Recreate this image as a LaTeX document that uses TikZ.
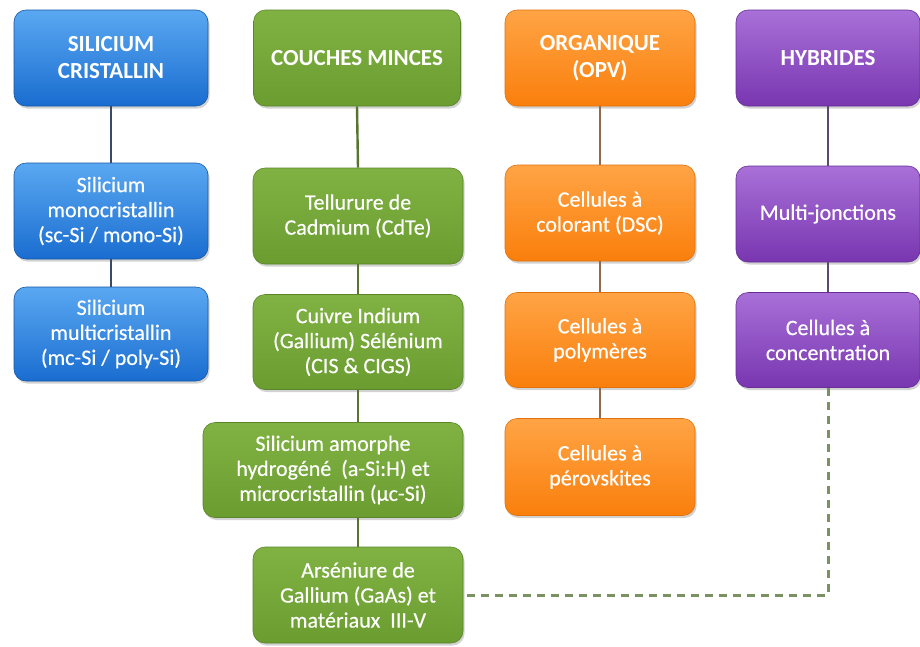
\documentclass[tikz,border=0pt]{standalone}
\usepackage{fontspec}
\setmainfont{Carlito}
\newfontfamily\boxfont[FakeBold=0.4]{Carlito}
\usetikzlibrary{shadows}
\definecolor{bTop}{HTML}{5AA8F2}
\definecolor{bBot}{HTML}{1A6DD0}
\definecolor{bLine}{HTML}{3A4A68}
\definecolor{gTop}{HTML}{80B243}
\definecolor{gBot}{HTML}{6A9C30}
\definecolor{gLine}{HTML}{58752E}
\definecolor{oTop}{HTML}{FFA445}
\definecolor{oBot}{HTML}{FA7F0C}
\definecolor{oLine}{HTML}{946A4C}
\definecolor{pTop}{HTML}{A970D8}
\definecolor{pBot}{HTML}{7836B0}
\definecolor{pLine}{HTML}{5C4A6C}
\definecolor{dLine}{HTML}{7A9262}
\tikzset{
  box/.style={rounded corners=12pt, minimum height=96pt, align=center, text=white,
    font=\boxfont\fontsize{22}{25}\selectfont, inner sep=2pt, line width=0.6pt,
    drop shadow={opacity=0.35, shadow xshift=1.5pt, shadow yshift=-2.5pt}},
  head/.style={font=\rmfamily\bfseries\fontsize{23}{27}\selectfont},
  bluebox/.style={box, top color=bTop, bottom color=bBot, draw=bBot!80!black, minimum width=194pt},
  greenbox/.style={box, top color=gTop, bottom color=gBot, draw=gBot!85!black, minimum width=210pt},
  orangebox/.style={box, top color=oTop, bottom color=oBot, draw=oBot!90!black, minimum width=190pt},
  purplebox/.style={box, top color=pTop, bottom color=pBot, draw=pBot!85!black, minimum width=184pt},
  link/.style={line width=2.4pt},
  dlink/.style={line width=3pt, draw=dLine, dash pattern=on 8pt off 6pt}
}
\begin{document}
\begin{tikzpicture}[x=1pt,y=-1pt]
\useasboundingbox[fill=white] (0,0) rectangle (920,646);
% blue column
\node[bluebox, head] (b0) at (111,58) {SILICIUM\\CRISTALLIN};
\node[bluebox] (b1) at (111,211) {Silicium\\monocristallin\\(sc-Si / mono-Si)};
\node[bluebox, minimum height=94pt] (b2) at (111,334) {Silicium\\multicristallin\\(mc-Si / poly-Si)};
% green column
\node[greenbox, head, minimum width=207pt] (g0) at (357,58) {COUCHES MINCES};
\node[greenbox] (g1) at (358,216) {Tellurure de\\Cadmium (CdTe)};
\node[greenbox, minimum height=95pt] (g2) at (358,342) {Cuivre Indium\\(Gallium) Sélénium\\(CIS \& CIGS)};
\node[greenbox, minimum width=260pt, minimum height=95pt] (g3) at (333,470) {Silicium amorphe\\hydrogéné~ (a-Si:H) et\\microcristallin (µc-Si)};
\node[greenbox] (g4) at (358,595) {Arséniure de\\Gallium (GaAs) et\\matériaux~ III-V};
% orange column
\node[orangebox, head] (o0) at (600,58) {ORGANIQUE\\(OPV)};
\node[orangebox] (o1) at (600,213) {Cellules à\\colorant (DSC)};
\node[orangebox, minimum height=95pt] (o2) at (600,340) {Cellules à\\polymères};
\node[orangebox, minimum height=97pt] (o3) at (600,467) {Cellules à\\pérovskites};
% purple column
\node[purplebox, head] (p0) at (828,58) {HYBRIDES};
\node[purplebox] (p1) at (828,214) {Multi-jonctions};
\node[purplebox, minimum height=95pt] (p2) at (828,340) {Cellules à\\concentration};
% connectors
\draw[link, bLine] (b0.south) -- (b1.north);
\draw[link, bLine] (b1.south) -- (b2.north);
\draw[link, gLine] (g0.south) -- (g1.north);
\draw[link, gLine] (g1.south) -- (g2.north);
\draw[link, gLine] (g2.south) -- (g2.south |- g3.north);
\draw[link, gLine] (g2.south |- g3.south) -- (g4.north);
\draw[link, oLine] (o0.south) -- (o1.north);
\draw[link, oLine] (o1.south) -- (o2.north);
\draw[link, oLine] (o2.south) -- (o3.north);
\draw[link, pLine] (p0.south) -- (p1.north);
\draw[link, pLine] (p1.south) -- (p2.north);
\draw[dlink] (p2.south) |- (g4.east);
\end{tikzpicture}
\end{document}
